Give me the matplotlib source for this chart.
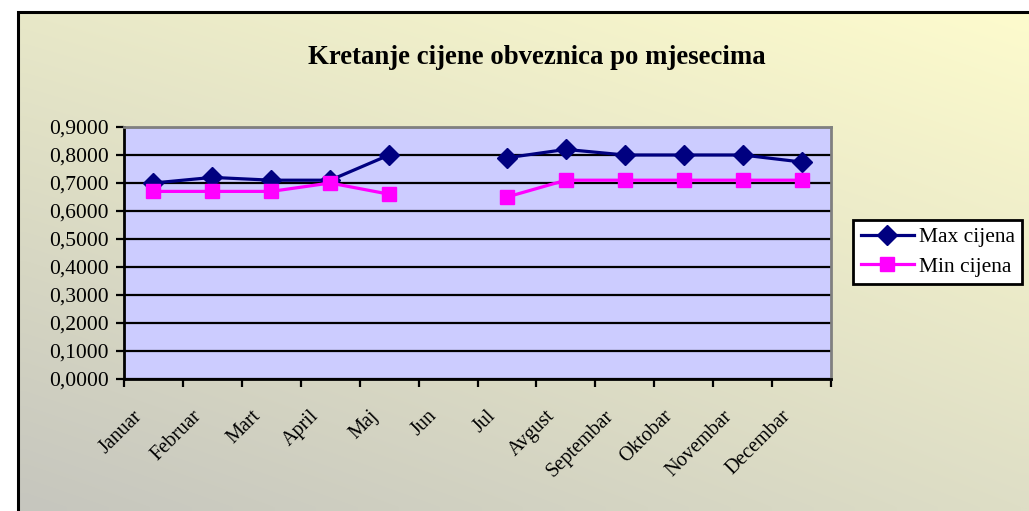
import numpy as np
import matplotlib
matplotlib.use('Agg')
import matplotlib.pyplot as plt
from matplotlib.patches import Rectangle
from matplotlib.transforms import ScaledTranslation
from matplotlib.ticker import FuncFormatter, MultipleLocator

# data
months = ['Januar', 'Februar', 'Mart', 'April', 'Maj', 'Jun', 'Jul',
          'Avgust', 'Septembar', 'Oktobar', 'Novembar', 'Decembar']
max_cijena = [0.70, 0.72, 0.71, 0.71, 0.80, np.nan, 0.79, 0.82, 0.80, 0.80, 0.80, 0.775]
min_cijena = [0.67, 0.67, 0.67, 0.70, 0.66, np.nan, 0.65, 0.71, 0.71, 0.71, 0.71, 0.71]

plt.rcParams['font.family'] = 'Liberation Serif'

W, H = 1029, 511
fig = plt.figure(figsize=(W / 100, H / 100), dpi=100)
fig.patch.set_facecolor('white')

# chart area background with a soft gradient (grey bottom-left -> pale yellow top-right)
bg = fig.add_axes([18 / W, 0, 1 - 18 / W, (H - 12) / H], zorder=-5)
tl = np.array([232, 232, 200]) / 255
tr = np.array([253, 251, 205]) / 255
bl = np.array([198, 198, 190]) / 255
br = np.array([222, 222, 198]) / 255
u = np.linspace(0, 1, 64)[None, :, None]
v = np.linspace(0, 1, 64)[:, None, None]
grad = (1 - v) * ((1 - u) * tl + u * tr) + v * ((1 - u) * bl + u * br)
bg.imshow(grad, aspect='auto', extent=[0, 1, 0, 1], interpolation='bilinear')
bg.set_axis_off()

# chart border
fig.patches.append(Rectangle((18 / W, -0.1), 1.2, (H - 12) / H + 0.1,
                             transform=fig.transFigure, fill=False,
                             edgecolor='black', linewidth=2.2, zorder=-4))

left, right, top, bottom = 124, 831, 127, 379
ax = fig.add_axes([left / W, (H - bottom) / H, (right - left) / W, (bottom - top) / H])
ax.set_facecolor('#ccccff')

x = np.arange(len(months))
ax.plot(x, max_cijena, color='#000080', lw=2.3, marker='D', ms=10,
        label='Max cijena', zorder=3)
ax.plot(x, min_cijena, color='#ff00ff', lw=2.3, marker='s', ms=10,
        mec='#ff00ff', label='Min cijena', zorder=3)

ax.set_xlim(-0.5, len(months) - 0.5)
ax.set_ylim(0, 0.9)
ax.yaxis.set_major_locator(MultipleLocator(0.1))
ax.yaxis.set_major_formatter(FuncFormatter(lambda val, pos: f'{val:.4f}'.replace('.', ',')))
ax.grid(axis='y', color='black', lw=1.6)
ax.set_axisbelow(True)

ax.set_xticks(x)
ax.set_xticklabels(months, rotation=45, ha='right', va='top')
ax.set_xticks(np.arange(-0.5, len(months)), minor=True)
ax.tick_params(axis='x', which='major', length=0, pad=20, labelsize=14.5)
ax.tick_params(axis='x', which='minor', length=6, width=1.6, direction='out')
ax.tick_params(axis='y', length=6, width=1.6, pad=5, labelsize=15.5)
for lbl in ax.get_xticklabels():
    lbl.set_transform(lbl.get_transform() + ScaledTranslation(-0.07, 0, fig.dpi_scale_trans))

for s in ['left', 'bottom']:
    ax.spines[s].set_color('black')
    ax.spines[s].set_linewidth(2)
for s in ['top', 'right']:
    ax.spines[s].set_color('#808080')
    ax.spines[s].set_linewidth(2)

fig.text(537 / W, 1 - 57 / H, 'Kretanje cijene obveznica po mjesecima',
         ha='center', va='center', fontsize=19.3, fontweight='bold')

leg = ax.legend(loc='center left', bbox_to_anchor=(853 / W, 1 - 252 / H),
                bbox_transform=fig.transFigure, fontsize=15.5, frameon=True,
                fancybox=False, framealpha=1, edgecolor='black',
                handlelength=2.5, handletextpad=0.2, borderpad=0.35,
                labelspacing=0.45, borderaxespad=0)
leg.get_frame().set_linewidth(2)

fig.savefig('out.png', dpi=100)
